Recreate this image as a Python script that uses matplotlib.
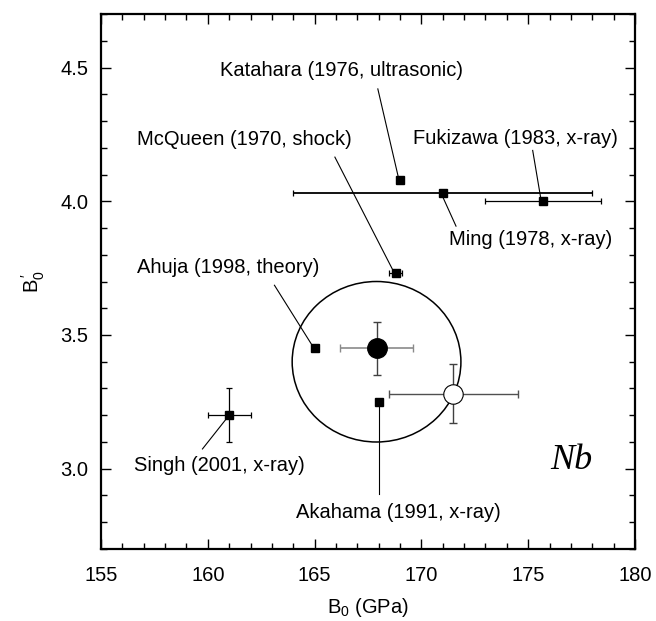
import matplotlib
matplotlib.use("Agg")
import matplotlib.pyplot as plt
from matplotlib.patches import Ellipse
from matplotlib.ticker import MultipleLocator

plt.rcParams['font.family'] = ['Liberation Sans', 'DejaVu Sans']
plt.rcParams['mathtext.fontset'] = 'custom'
plt.rcParams['mathtext.rm'] = 'Liberation Sans'
plt.rcParams['mathtext.it'] = 'Liberation Sans:italic'

# ---- literature data (square markers) ----
labels = ["Katahara (1976, ultrasonic)", "Ming (1978, x-ray)", "Fukizawa (1983, x-ray)",
          "McQueen (1970, shock)", "Ahuja (1998, theory)", "Singh (2001, x-ray)",
          "Akahama (1991, x-ray)"]
b0 = [169.0, 171.0, 175.7, 168.8, 165.0, 161.0, 168.0]
b0p = [4.08, 4.03, 4.00, 3.73, 3.45, 3.20, 3.25]
b0_err = [0.0, 7.0, 2.7, 0.3, 0.0, 1.0, 0.0]
b0p_err = [0.0, 0.0, 0.0, 0.0, 0.0, 0.1, 0.0]

# label text positions and leader line endpoints (data coords)
label_x = [166.25, 175.1, 174.38, 161.7, 160.95, 160.53, 168.94]
label_y = [4.487, 3.857, 4.233, 4.232, 3.752, 3.012, 2.838]
lead_x0 = [167.96, 171.03, 175.21, 165.95, 163.12, 159.75, 168.0]
lead_y0 = [4.42, 4.011, 4.19, 4.165, 3.686, 3.074, 3.25]
lead_x1 = [168.92, 171.62, 175.58, 168.7, 164.88, 160.85, 168.0]
lead_y1 = [4.09, 3.907, 4.015, 3.737, 3.462, 3.185, 2.904]

# ---- this work ----
fit_b0 = [167.9, 171.5]
fit_b0p = [3.45, 3.28]
fit_b0_err = [1.7, 3.0]
fit_b0p_err = [0.10, 0.11]
ell_center = (167.9, 3.40)
ell_halfwidth = 3.95
ell_halfheight = 0.30

fig = plt.figure(figsize=(6.56, 6.21), dpi=100)
ax = fig.add_axes([101/656, 1 - 549/621, 534/656, 535/621])

ax.add_patch(Ellipse(ell_center, 2*ell_halfwidth, 2*ell_halfheight, fill=False,
                     edgecolor='black', lw=1.1, zorder=2))

# leader lines
for xa, ya, xb, yb in zip(lead_x0, lead_y0, lead_x1, lead_y1):
    ax.plot([xa, xb], [ya, yb], color='black', lw=0.8, zorder=3)

# literature points
for i in range(len(b0)):
    lw = 1.3 if i == 1 else 0.9
    ax.errorbar(b0[i], b0p[i],
                xerr=b0_err[i] if b0_err[i] > 0 else None,
                yerr=b0p_err[i] if b0p_err[i] > 0 else None,
                fmt='s', color='black', ms=5.4, elinewidth=lw, capsize=2.5,
                capthick=0.9, zorder=4)

# this work: filled and open circle
ax.errorbar(fit_b0[0], fit_b0p[0], xerr=fit_b0_err[0], fmt='none',
            ecolor='#8a8a8a', elinewidth=1.2, capsize=3, capthick=1.0, zorder=4)
ax.errorbar(fit_b0[0], fit_b0p[0], yerr=fit_b0p_err[0], fmt='none',
            ecolor='#404040', elinewidth=1.0, capsize=3, capthick=1.0, zorder=4)
ax.plot(fit_b0[0], fit_b0p[0], 'o', color='black', ms=14, zorder=5)
ax.errorbar(fit_b0[1], fit_b0p[1], xerr=fit_b0_err[1], fmt='none',
            ecolor='#505050', elinewidth=1.0, capsize=3, capthick=1.0, zorder=4)
ax.errorbar(fit_b0[1], fit_b0p[1], yerr=fit_b0p_err[1], fmt='none',
            ecolor='#404040', elinewidth=1.0, capsize=3, capthick=1.0, zorder=4)
ax.plot(fit_b0[1], fit_b0p[1], 'o', mfc='white', mec='black', mew=0.8, ms=14, zorder=5)

for t, x, y in zip(labels, label_x, label_y):
    ax.text(x, y, t, ha='center', va='center', fontsize=14.5, zorder=6)

ax.text(177.0, 3.03, 'Nb', ha='center', va='center', fontsize=26,
        family='Liberation Serif', style='italic')

ax.set_xlim(155, 180)
ax.set_ylim(2.7, 4.7)
ax.xaxis.set_major_locator(MultipleLocator(5))
ax.xaxis.set_minor_locator(MultipleLocator(1))
ax.yaxis.set_major_locator(MultipleLocator(0.5))
ax.yaxis.set_minor_locator(MultipleLocator(0.1))
ax.yaxis.set_major_formatter(plt.FormatStrFormatter('%.1f'))
ax.tick_params(which='both', direction='in', top=True, right=True, width=1.0,
               labelsize=14.5)
ax.tick_params(which='major', length=7.5)
ax.tick_params(which='minor', length=4)
ax.tick_params(axis='x', which='major', pad=12)
ax.tick_params(axis='y', which='major', pad=9)
for s in ax.spines.values():
    s.set_linewidth(1.6)

ax.set_xlabel(r'$\mathregular{B_0}$ (GPa)', fontsize=14.5, labelpad=8)
ax.set_ylabel(r"$\mathregular{B_0^{\,\prime}}$", fontsize=14.5, labelpad=10)

fig.savefig('out.png', dpi=100)
